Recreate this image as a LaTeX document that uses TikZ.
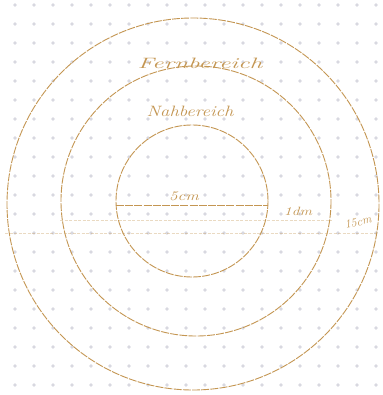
\documentclass[tikz,border=0pt]{standalone}
\definecolor{ink}{RGB}{196,150,82}
\definecolor{dotc}{RGB}{216,216,224}
\tikzset{
  pen/.style={draw=ink, line width=0.9pt, dash pattern=on 8pt off 1.2pt},
  faint/.style={draw=ink, opacity=0.35, line width=0.7pt, dash pattern=on 3pt off 1.5pt},
  hand/.style={text=ink, font=\itshape, inner sep=0pt}
}
\begin{document}
\begin{tikzpicture}[x=1pt,y=-1pt]
\useasboundingbox (0,0) rectangle (382,395);
\fill[white] (0,0) rectangle (382,395);
% dot grid
\foreach \i in {0,...,19}{
  \foreach \j in {0,...,20}{
    \fill[dotc] (15+19*\i,5+19*\j) circle (1.9);
  }
}
% faint horizontal traces
\draw[faint] (60,220) -- (332,220);
\draw[faint] (5,233) -- (376,233);
% circles
\coordinate (ci) at (192,201);
\coordinate (cm) at (196,201);
\coordinate (co) at (193,204);
\draw[pen] (co) circle (186);
\draw[pen] (cm) circle (135);
\draw[pen] (ci) circle (76);
% diameter of inner circle
\coordinate (dl) at (116,205);
\coordinate (dr) at (268,205);
\draw[pen] (dl) -- (dr);
% labels
\node[hand, font=\itshape\fontsize{15}{17}\selectfont, xscale=1.7] (top) at (200,63) {Fernbereich};
\node[hand, font=\itshape\fontsize{15}{17}\selectfont, xscale=1.25] (mid) at (190,111) {Nahbereich};
\node[hand, font=\itshape\fontsize{13}{15}\selectfont, xscale=1.3] (r1) at (184,196) {5cm};
\node[hand, font=\itshape\fontsize{12}{14}\selectfont, xscale=1.3] (r2) at (298,211) {1dm};
\node[hand, font=\itshape\fontsize{12}{14}\selectfont, rotate=12] (r3) at (358,222) {15cm};
\end{tikzpicture}
\end{document}
